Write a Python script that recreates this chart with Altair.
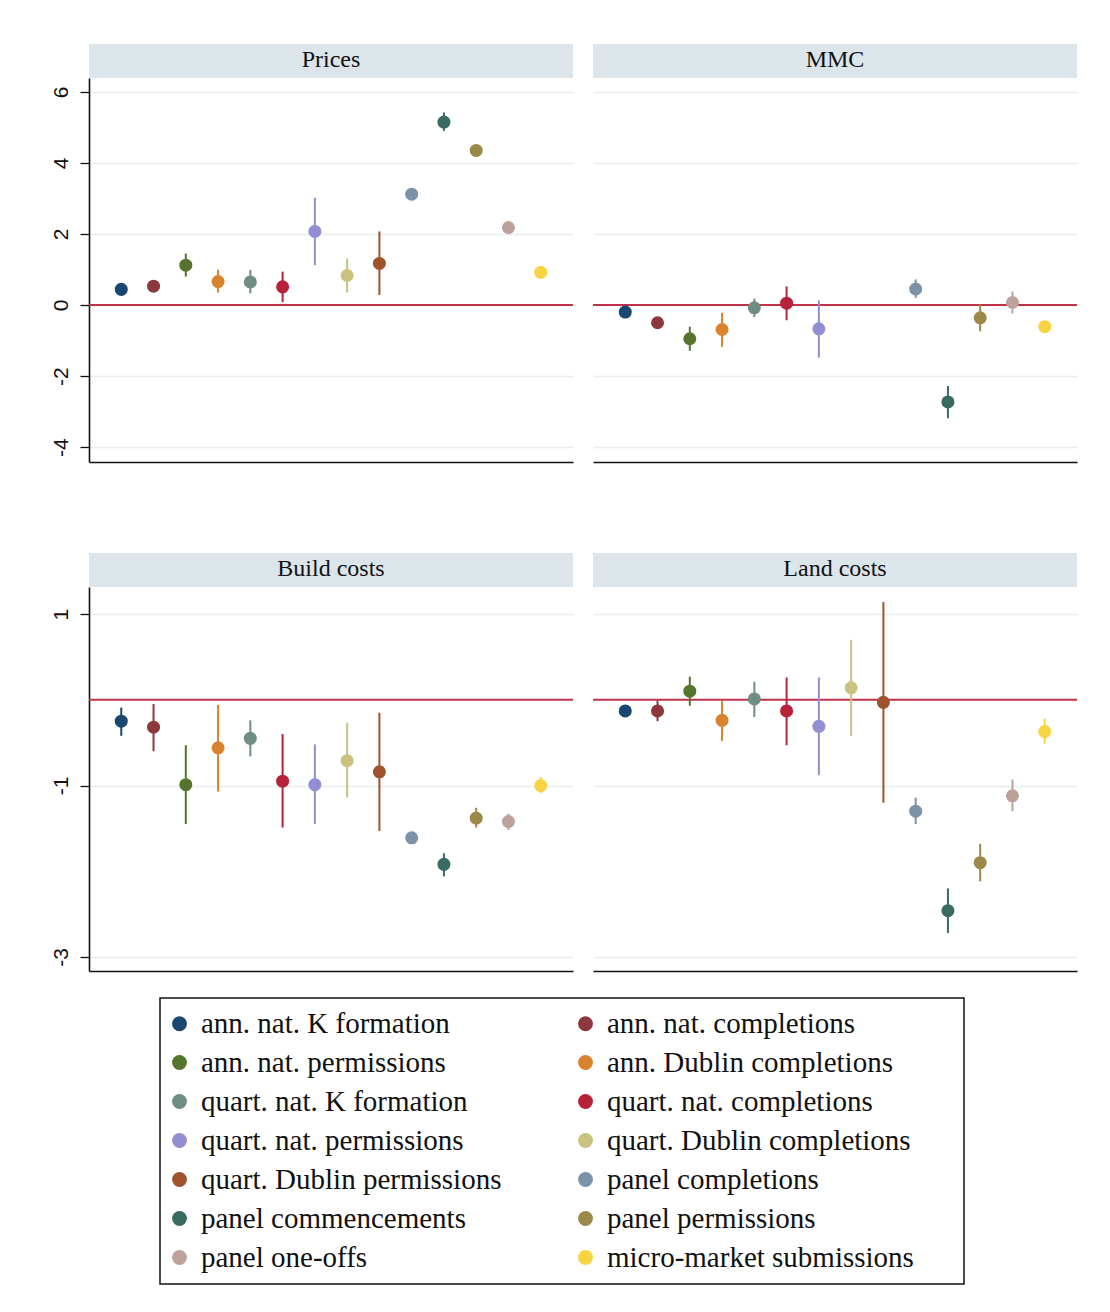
import altair as alt
import pandas as pd

panels = ["Prices", "MMC", "Build costs", "Land costs"]
series = ["ann. nat. K formation", "ann. nat. completions", "ann. nat. permissions",
          "ann. Dublin completions", "quart. nat. K formation", "quart. nat. completions",
          "quart. nat. permissions", "quart. Dublin completions", "quart. Dublin permissions",
          "panel completions", "panel commencements", "panel permissions",
          "panel one-offs", "micro-market submissions"]
colors = ["#1a476f", "#8c383c", "#55752f", "#da832e", "#6e8e84", "#b8213a", "#938dd2",
          "#cac27e", "#a0522d", "#7b92a8", "#3a6b63", "#9c8847", "#bda29c", "#f8d442"]

prices_est = [0.44, 0.53, 1.12, 0.66, 0.65, 0.51, 2.07, 0.83, 1.17, 3.12, 5.15, 4.35, 2.18, 0.92]
prices_lo = [0.40, 0.48, 0.80, 0.35, 0.33, 0.08, 1.12, 0.35, 0.28, 3.08, 4.90, 4.30, 2.14, 0.88]
prices_hi = [0.48, 0.58, 1.45, 0.99, 0.99, 0.94, 3.02, 1.31, 2.07, 3.16, 5.42, 4.40, 2.22, 0.96]

mmc_est = [-0.20, -0.50, -0.95, -0.69, -0.08, 0.05, -0.67, None, None, 0.45, -2.73, -0.36, 0.07, -0.61]
mmc_lo = [-0.24, -0.60, -1.29, -1.18, -0.34, -0.43, -1.48, None, None, 0.20, -3.19, -0.74, -0.24, -0.65]
mmc_hi = [-0.16, -0.40, -0.61, -0.22, 0.18, 0.52, 0.13, None, None, 0.72, -2.28, 0.02, 0.38, -0.57]

build_est = [-0.25, -0.32, -0.99, -0.56, -0.45, -0.95, -0.99, -0.71, -0.84, -1.61, -1.92, -1.38, -1.42, -1.00]
build_lo = [-0.42, -0.60, -1.45, -1.07, -0.66, -1.49, -1.45, -1.14, -1.53, -1.64, -2.06, -1.49, -1.52, -1.09]
build_hi = [-0.09, -0.05, -0.53, -0.06, -0.24, -0.40, -0.52, -0.27, -0.15, -1.58, -1.79, -1.26, -1.33, -0.90]

land_est = [-0.13, -0.13, 0.10, -0.24, 0.01, -0.13, -0.31, 0.14, -0.03, -1.30, -2.46, -1.90, -1.12, -0.37]
land_lo = [-0.16, -0.25, -0.07, -0.48, -0.20, -0.53, -0.88, -0.42, -1.20, -1.45, -2.72, -2.12, -1.30, -0.51]
land_hi = [-0.10, -0.01, 0.27, -0.01, 0.21, 0.26, 0.26, 0.70, 1.14, -1.14, -2.20, -1.68, -0.93, -0.22]

top_domain = [-4.42, 6.39]
top_ticks = [-4, -2, 0, 2, 4, 6]
bottom_domain = [-3.164, 1.316]
bottom_ticks = [-3, -1, 1]

# legend shows two columns filled row by row (Vega fills legend columns top-down)
legend_domain = series[0::2] + series[1::2]
legend_range = colors[0::2] + colors[1::2]

SERIF = "Liberation Serif"
SANS = "Liberation Sans"
W = 484
STRIP = 34
GRID = "#e6eef0"
RED = "#c3304a"

legend = alt.Legend(title=" ", titleOrient="right", titlePadding=39, titleFontSize=10)


def panel(name, est, lo, hi, ydom, yticks, left, height):
    df = pd.DataFrame({"idx": list(range(1, 15)), "series": series,
                       "est": est, "lo": lo, "hi": hi}).dropna()
    xenc = alt.X("idx:Q", scale=alt.Scale(domain=[0, 15], nice=False, zero=False),
                 axis=alt.Axis(title=None, labels=False, ticks=False, grid=False,
                               domain=True, domainColor="#111111", domainWidth=1.6))
    yscale = alt.Scale(domain=ydom, nice=False, zero=False)
    if left:
        yaxis = alt.Axis(title=None, values=yticks, grid=True, gridColor=GRID, gridWidth=1.5,
                         labelAngle=270, labelAlign="center", labelBaseline="bottom",
                         labelExpr="toString(datum.value)",
                         tickSize=9, tickColor="#111111", tickWidth=1.3, labelPadding=9,
                         domain=True, domainColor="#111111", domainWidth=1.6,
                         labelFont=SANS, labelFontSize=21, labelColor="#111111")
    else:
        yaxis = alt.Axis(title=None, values=yticks, grid=True, gridColor=GRID, gridWidth=1.5,
                         labels=False, ticks=False, domain=False)
    color = alt.Color("series:N", scale=alt.Scale(domain=legend_domain, range=legend_range),
                      legend=legend)

    base = alt.Chart(df)
    zero = alt.Chart(pd.DataFrame({"z": [0]})).mark_rule(color=RED, strokeWidth=2).encode(
        y=alt.Y("z:Q", scale=yscale, axis=yaxis))
    bars = base.mark_rule(strokeWidth=2).encode(
        x=xenc, y=alt.Y("lo:Q", scale=yscale, axis=yaxis), y2="hi:Q", color=color)
    pts = base.mark_circle(size=170, opacity=1).encode(
        x=xenc, y=alt.Y("est:Q", scale=yscale, axis=yaxis), color=color)
    strip_df = pd.DataFrame({"t": [name]})
    strip = alt.Chart(strip_df).mark_rect(color="#dce5ea").encode(
        x=alt.value(0), x2=alt.value(W), y=alt.value(-STRIP), y2=alt.value(0))
    label = alt.Chart(strip_df).mark_text(font=SERIF, fontSize=24, color="#111111",
                                          baseline="middle", align="center").encode(
        x=alt.value(W / 2), y=alt.value(-STRIP / 2 - 1), text="t:N")
    return alt.layer(strip, label, zero, bars, pts).properties(width=W, height=height)


row1 = alt.hconcat(
    panel(panels[0], prices_est, prices_lo, prices_hi, top_domain, top_ticks, True, 384),
    panel(panels[1], mmc_est, mmc_lo, mmc_hi, top_domain, top_ticks, False, 384),
    spacing=18)
row2 = alt.hconcat(
    panel(panels[2], build_est, build_lo, build_hi, bottom_domain, bottom_ticks, True, 384),
    panel(panels[3], land_est, land_lo, land_hi, bottom_domain, bottom_ticks, False, 384),
    spacing=18)

chart = alt.vconcat(row1, row2, spacing=91).resolve_scale(color="shared").properties(
    padding={"left": 42, "top": 36, "right": 5, "bottom": 20},
    background="white"
).configure_view(strokeWidth=0).configure_legend(
    orient="none", legendX=71, legendY=920, columns=2,
    strokeColor="#111111", strokeWidth=1.5, fillColor="white", padding=11,
    symbolType="circle", symbolSize=220, symbolStrokeWidth=0, symbolOpacity=1,
    symbolOffset=-6,
    labelFont=SERIF, labelFontSize=29, labelColor="#111111", labelLimit=0,
    labelOffset=7, rowPadding=9, columnPadding=75, gridAlign="each"
)

chart.save("out.html", embed_options={"renderer": "svg", "actions": False})
